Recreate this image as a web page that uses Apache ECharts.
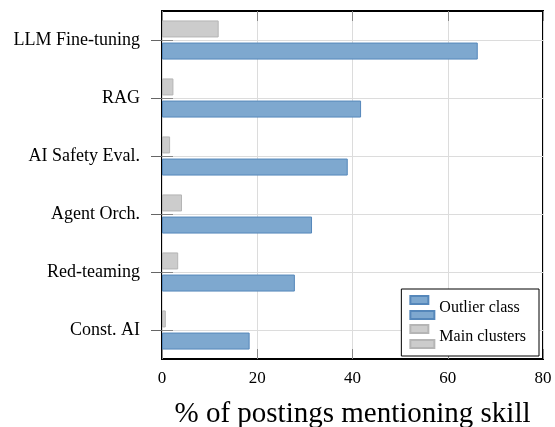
<!DOCTYPE html>
<html><head><meta charset="utf-8">
<script src="https://cdn.jsdelivr.net/npm/echarts@6/dist/echarts.min.js"></script>
<style>html,body{margin:0;padding:0;background:#fff}#c{width:555px;height:427px}</style>
</head><body><div id="c"></div>
<script>
const categories = ['LLM Fine-tuning', 'RAG', 'AI Safety Eval.', 'Agent Orch.', 'Red-teaming', 'Const. AI'];
const outlierClass = [66.3, 41.8, 39.0, 31.5, 27.9, 18.4];
const mainClusters = [11.9, 2.4, 1.7, 4.2, 3.4, 0.8];
const xTicks = [0, 20, 40, 60, 80];

const font = 'Liberation Serif';
const chart = echarts.init(document.getElementById('c'), null, {renderer: 'canvas'});
chart.setOption({
  animation: false,
  backgroundColor: '#fff',
  textStyle: {fontFamily: font},
  grid: {left: 162, top: 11, right: 12, bottom: 68, show: true, borderColor: '#000', borderWidth: 2,
         backgroundColor: 'transparent', containLabel: false, outerBoundsMode: 'none'},
  legend: {
    orient: 'vertical', right: 16, bottom: 71,
    backgroundColor: '#fff', borderColor: '#000', borderWidth: 1,
    padding: [6, 13, 7, 8], itemWidth: 24, itemHeight: 23, itemGap: 4,
    icon: 'path://M0,0H18V8H0Z M0,15H24V23H0Z',
    textStyle: {fontFamily: font, fontSize: 16, color: '#000'},
    data: ['Outlier class', 'Main clusters']
  },
  xAxis: [{
    type: 'value', min: xTicks[0], max: xTicks[xTicks.length - 1], interval: 20,
    position: 'bottom',
    axisLine: {show: false},
    axisTick: {show: true, inside: true, length: 10, lineStyle: {color: '#888'}},
    axisLabel: {fontFamily: font, fontSize: 17, color: '#000', margin: 11},
    splitLine: {show: true, lineStyle: {color: '#dcdcdc', width: 1}},
    name: '% of postings mentioning skill', nameLocation: 'middle', nameGap: 41,
    nameTextStyle: {fontFamily: font, fontSize: 29, color: '#000'}
  }, {
    type: 'value', min: xTicks[0], max: xTicks[xTicks.length - 1], interval: 20,
    position: 'top',
    axisLine: {show: false},
    axisTick: {show: true, inside: true, length: 10, lineStyle: {color: '#888'}},
    axisLabel: {show: false},
    splitLine: {show: false}
  }],
  yAxis: [{
    type: 'category', data: categories, inverse: true, position: 'left',
    axisLine: {show: false},
    axisTick: {show: true, alignWithLabel: true, length: 11, lineStyle: {color: '#666'}},
    axisLabel: {fontFamily: font, fontSize: 18, color: '#000', margin: 22},
    splitLine: {show: true, alignWithLabel: true, lineStyle: {color: '#dcdcdc', width: 1}}
  }, {
    type: 'category', data: categories, inverse: true, position: 'right',
    axisLine: {show: false},
    axisTick: {show: true, alignWithLabel: true, length: 11, lineStyle: {color: '#888'}},
    axisLabel: {show: false},
    splitLine: {show: false}
  }],
  series: [{
    name: 'Main clusters', type: 'bar', data: mainClusters, barWidth: 17, barGap: '30%',
    itemStyle: {color: '#cccccc', borderColor: '#b5b5b5', borderWidth: 1}
  }, {
    name: 'Outlier class', type: 'bar', data: outlierClass, barWidth: 17, barGap: '30%',
    itemStyle: {color: '#7ea8cf', borderColor: '#5587ba', borderWidth: 1}
  }]
});
</script></body></html>
